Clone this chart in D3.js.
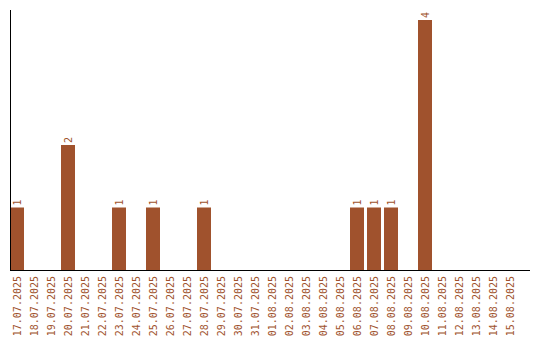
<!DOCTYPE html>
<html>
<head>
<meta charset="utf-8">
<script src="https://cdn.jsdelivr.net/npm/d3@7"></script>
<style>
body{margin:0;background:#fff;}
text{font-family:"DejaVu Sans Mono",monospace;font-size:10px;fill:#a0522d;}
</style>
</head>
<body>
<div class="chart"></div>
<script>
var dates = ["17.07.2025","18.07.2025","19.07.2025","20.07.2025","21.07.2025","22.07.2025",
"23.07.2025","24.07.2025","25.07.2025","26.07.2025","27.07.2025","28.07.2025","29.07.2025",
"30.07.2025","31.07.2025","01.08.2025","02.08.2025","03.08.2025","04.08.2025","05.08.2025",
"06.08.2025","07.08.2025","08.08.2025","09.08.2025","10.08.2025","11.08.2025","12.08.2025",
"13.08.2025","14.08.2025","15.08.2025"];
var counts = [1,0,0,2,0,0,1,0,1,0,0,1,0,0,0,0,0,0,0,0,1,1,1,0,4,0,0,0,0,0];

var svgWidth = 540, svgHeight = 340;
var svg = d3.select(".chart").append("svg")
  .attr("width", svgWidth)
  .attr("height", svgHeight);

var xScale = d3.scaleBand()
  .domain(dates)
  .range([10, 517])
  .paddingInner(3/17)
  .paddingOuter(0)
  .align(0);
var yScale = d3.scaleLinear()
  .domain([0, 4])
  .range([270, 20]);

var data = dates.map((d,i)=>({date:d, count:counts[i]})).filter(d=>d.count > 0);

//bars
svg.selectAll("rect.bar")
  .data(data)
  .enter()
  .append("rect")
  .attr("class","bar")
  .attr("x", d=>xScale(d.date))
  .attr("y", d=>yScale(d.count))
  .attr("width", xScale.bandwidth())
  .attr("height", d=>yScale(0)-yScale(d.count))
  .attr("fill", "#a0522d");

//value labels
svg.selectAll("text.val")
  .data(data)
  .enter()
  .append("text")
  .attr("class","val")
  .attr("transform", d=>`translate(${xScale(d.date) + xScale.bandwidth()/2 + 3.5},${yScale(d.count) - 2}) rotate(-90)`)
  .attr("text-anchor","start")
  .text(d=>d.count);

//x tick labels
var xAxis = svg.append("g")
  .attr("transform", `translate(0,${yScale(0)})`)
  .call(d3.axisBottom(xScale).tickSize(0).tickPadding(0));
xAxis.select(".domain").remove();
xAxis.selectAll("text")
  .attr("transform","rotate(-90)")
  .attr("x", -6)
  .attr("y", 0)
  .attr("dy","0.35em")
  .attr("text-anchor","end")
  .style("font-family",'"DejaVu Sans Mono",monospace')
  .style("font-size","10px")
  .attr("fill","#a0522d");

//axis lines
svg.append("line")
  .attr("x1", 10.5).attr("x2", 10.5)
  .attr("y1", 10).attr("y2", yScale(0))
  .attr("stroke","#000");
svg.append("line")
  .attr("x1", 10).attr("x2", 530)
  .attr("y1", yScale(0)+0.5).attr("y2", yScale(0)+0.5)
  .attr("stroke","#000");
</script>
</body>
</html>
